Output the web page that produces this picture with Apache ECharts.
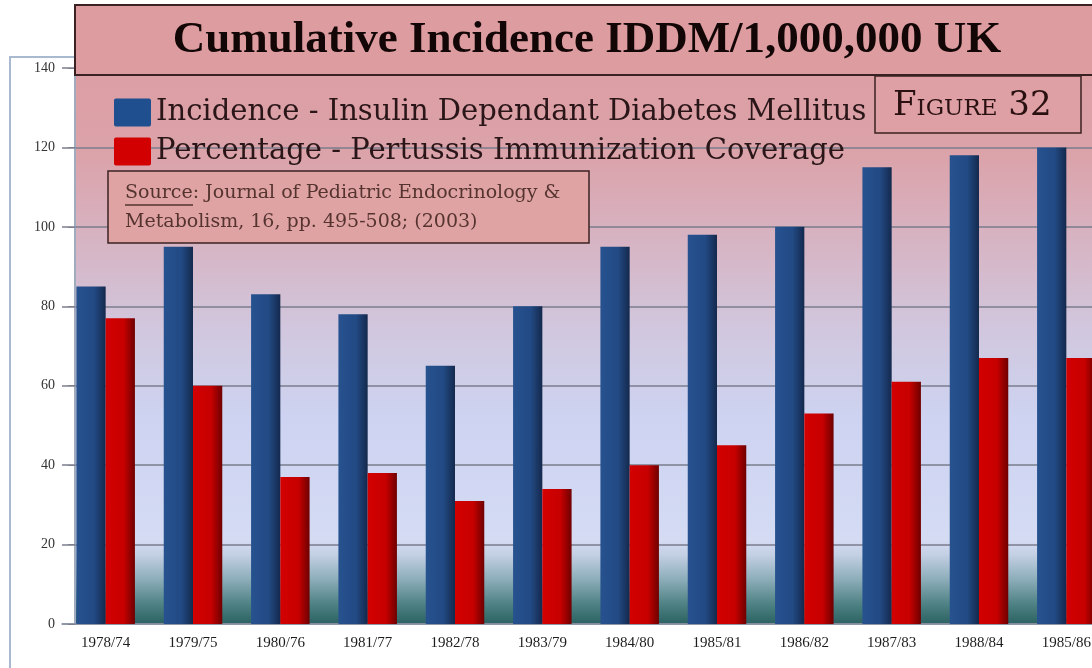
<!DOCTYPE html>
<html>
<head>
<meta charset="utf-8">
<title>Cumulative Incidence IDDM/1,000,000 UK</title>
<script src="https://cdn.jsdelivr.net/npm/echarts@6/dist/echarts.min.js"></script>
<style>
  html, body { margin: 0; padding: 0; background: #fff; overflow: hidden; }
  /* 图表比窗口略宽，最后一组柱子被裁掉一部分，与原图一致 */
  #chart { width: 1110px; height: 668px; }
</style>
</head>
<body>
<div id="chart"></div>
<script>
// 数据：年份 / 免疫年份
const periods = ['1978/74', '1979/75', '1980/76', '1981/77', '1982/78', '1983/79',
  '1984/80', '1985/81', '1986/82', '1987/83', '1988/84', '1985/86']
const incidence = [85, 95, 83, 78, 65, 80, 95, 98, 100, 115, 118, 120]
const coverage = [77, 60, 37, 38, 31, 34, 40, 45, 53, 61, 67, 67]
const yTicks = { min: 0, max: 140, interval: 20 }

const seriesNames = [
  'Incidence - Insulin Dependant Diabetes Mellitus',
  'Percentage - Pertussis Immunization Coverage'
]

const serif = 'DejaVu Serif'
const ink = '#2a1618'

// 柱子的横向渐变
const hGrad = (stops) => ({
  type: 'linear', x: 0, y: 0, x2: 1, y2: 0,
  colorStops: stops.map(([offset, color]) => ({ offset, color }))
})
const blueGrad = hGrad([[0, '#26528f'], [0.6, '#224a84'], [1, '#14294d']])
const redGrad = hGrad([[0, '#d40000'], [0.62, '#c60000'], [1, '#6e0000']])

const chart = echarts.init(document.getElementById('chart'), null, { renderer: 'canvas' })

const option = {
  animation: false,
  backgroundColor: '#ffffff',
  grid: { left: 62, right: 0, top: 68, bottom: 44 },
  legend: {
    orient: 'vertical',
    left: 109,
    top: 93,
    itemWidth: 37,
    itemHeight: 28,
    itemGap: 10,
    itemTextGap: 20,
    icon: 'path://M2,0 L35,0 Q37,0 37,2 L37,26 Q37,28 35,28 L2,28 Q0,28 0,26 L0,2 Q0,0 2,0 Z',
    textStyle: { fontFamily: serif, fontSize: 29, color: ink },
    data: [
      { name: seriesNames[0], itemStyle: { color: '#1f4f8f' } },
      { name: seriesNames[1], itemStyle: { color: '#d20000' } }
    ],
    z: 20
  },
  xAxis: {
    type: 'category',
    data: periods,
    axisLine: { show: true, lineStyle: { color: '#8a95a8', width: 1.5 } },
    axisTick: { show: false },
    axisLabel: {
      margin: 12,
      fontFamily: 'Liberation Serif',
      fontSize: 15,
      color: '#1c1c1c'
    }
  },
  yAxis: {
    type: 'value',
    min: yTicks.min,
    max: yTicks.max,
    interval: yTicks.interval,
    offset: -13,
    axisLine: { show: true, lineStyle: { color: '#8190a8', width: 1.5 } },
    axisTick: { show: true, inside: false, length: 7, lineStyle: { color: '#7d7f8c' } },
    axisLabel: {
      margin: 20,
      fontFamily: 'Liberation Serif',
      fontSize: 14,
      color: '#333333'
    },
    splitLine: { show: true, lineStyle: { color: '#7a7c8c', width: 1.5 } }
  },
  series: [
    {
      name: seriesNames[0],
      type: 'bar',
      data: incidence,
      barGap: '0%',
      barCategoryGap: '33%',
      itemStyle: { color: blueGrad }
    },
    {
      name: seriesNames[1],
      type: 'bar',
      data: coverage,
      itemStyle: { color: redGrad }
    }
  ],
  graphic: [
    // 外框
    {
      type: 'polyline', z: -20,
      shape: { points: [[10, 680], [10, 57], [76, 57]] },
      style: { stroke: '#a9bad0', lineWidth: 2, fill: null }
    },
    // 绘图区背景渐变
    {
      type: 'rect', z: -10,
      shape: { x: 76, y: 68, width: 1040, height: 556 },
      style: {
        fill: {
          type: 'linear', x: 0, y: 0, x2: 0, y2: 1,
          colorStops: [
            { offset: 0, color: '#dc9ea3' },
            { offset: 0.16, color: '#dba3aa' },
            { offset: 0.33, color: '#d6b6c6' },
            { offset: 0.47, color: '#d1c7de' },
            { offset: 0.63, color: '#cdd3f1' },
            { offset: 0.85, color: '#d4dbf3' },
            { offset: 0.875, color: '#c4d0e4' },
            { offset: 0.92, color: '#8cadb9' },
            { offset: 0.965, color: '#4d8183' },
            { offset: 1, color: '#2c6262' }
          ]
        }
      }
    },
    // 标题框
    {
      type: 'rect', z: 50,
      shape: { x: 75, y: 5, width: 1040, height: 70 },
      style: { fill: '#dd9c9f', stroke: '#3b2222', lineWidth: 2 }
    },
    {
      type: 'text', z: 51,
      x: 587, y: 40,
      style: {
        text: 'Cumulative Incidence IDDM/1,000,000 UK',
        fontFamily: 'Liberation Serif', fontWeight: 'bold', fontSize: 45,
        fill: '#120606', align: 'center', verticalAlign: 'middle'
      }
    },
    // FIGURE 32
    {
      type: 'rect', z: 50,
      shape: { x: 875, y: 76, width: 206, height: 57 },
      style: { fill: '#dea0a4', stroke: '#3b2222', lineWidth: 1.5 }
    },
    {
      type: 'text', z: 51,
      x: 893, y: 106,
      style: {
        text: '{a|F}{b|IGURE}{a| 32}',
        verticalAlign: 'middle',
        rich: {
          a: { fontFamily: serif, fontSize: 34, fill: '#2a1010' },
          b: { fontFamily: serif, fontSize: 23, fill: '#2a1010', padding: [6, 0, 0, 0] }
        }
      }
    },
    // 来源框
    {
      type: 'rect', z: 50,
      shape: { x: 108, y: 171, width: 481, height: 72 },
      style: { fill: '#e0a3a4', stroke: '#3b2222', lineWidth: 1.5 }
    },
    {
      type: 'text', z: 51,
      x: 125, y: 193,
      style: {
        text: 'Source: Journal of Pediatric Endocrinology &',
        fontFamily: serif, fontSize: 19, fill: '#553430', verticalAlign: 'middle'
      }
    },
    {
      type: 'line', z: 51,
      shape: { x1: 125, y1: 205, x2: 193, y2: 205 },
      style: { stroke: '#553430', lineWidth: 1.3 }
    },
    {
      type: 'text', z: 51,
      x: 125, y: 222,
      style: {
        text: 'Metabolism, 16, pp. 495-508; (2003)',
        fontFamily: serif, fontSize: 19, fill: '#553430', verticalAlign: 'middle'
      }
    }
  ]
}

chart.setOption(option)
window.addEventListener('resize', () => chart.resize())
</script>
</body>
</html>
